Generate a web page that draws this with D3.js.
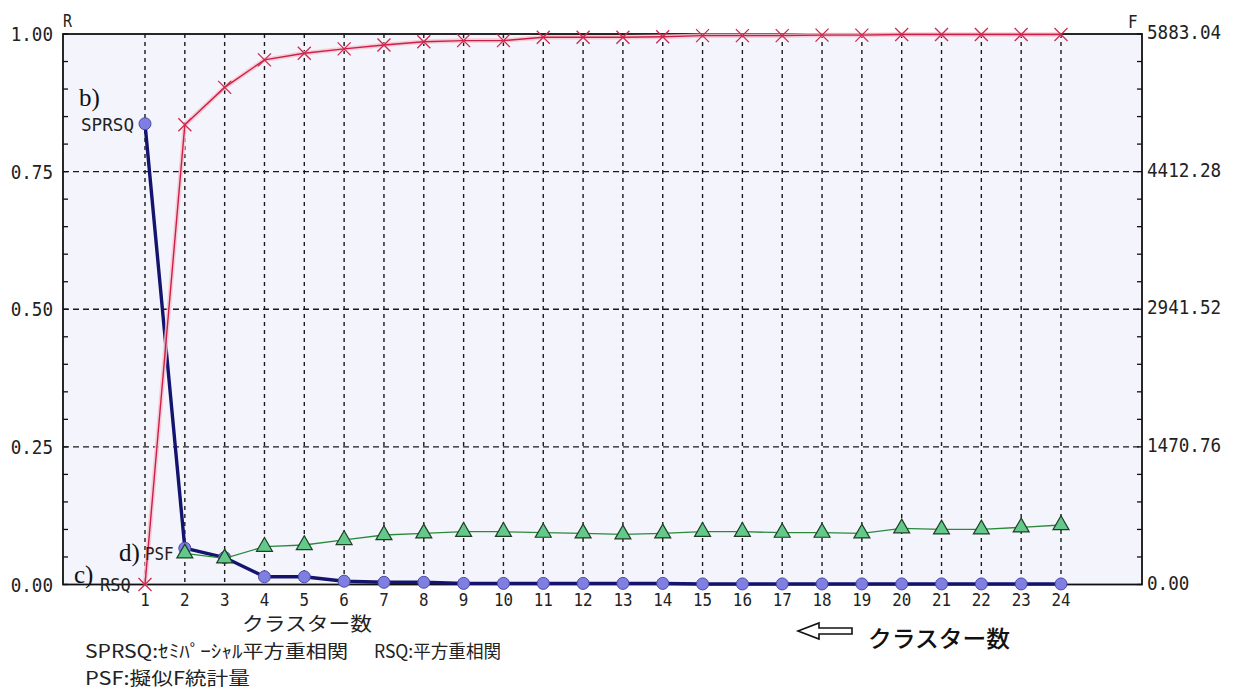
<!DOCTYPE html>
<html>
<head>
<meta charset="utf-8">
<script src="https://cdn.jsdelivr.net/npm/d3@7/dist/d3.min.js"></script>
<style>
  html, body { margin: 0; padding: 0; background: #ffffff; }
  svg { display: block; }
</style>
</head>
<body>
<svg id="chart" width="1239" height="691"></svg>
<script>
// Cluster counts along the horizontal axis
const clusters = [1, 2, 3, 4, 5, 6, 7, 8, 9, 10, 11, 12, 13, 14, 15, 16, 17, 18, 19, 20, 21, 22, 23, 24];
// Semi-partial R-squared (left axis R)
const sprsq = [0.837, 0.066, 0.049, 0.014, 0.014, 0.006, 0.004, 0.004, 0.002, 0.002, 0.002, 0.002,
               0.002, 0.002, 0.001, 0.001, 0.001, 0.001, 0.001, 0.001, 0.001, 0.001, 0.001, 0.001];
// R-squared (left axis R)
const rsq = [0.000, 0.835, 0.903, 0.953, 0.965, 0.973, 0.980, 0.986, 0.988, 0.988, 0.994, 0.994,
             0.994, 0.995, 0.997, 0.997, 0.997, 0.998, 0.998, 0.999, 0.999, 0.999, 0.999, 0.999];
// Pseudo F statistic (right axis F); undefined for a single cluster
const psf = [null, 333, 280, 404, 422, 476, 529, 547, 564, 564, 554, 547,
             536, 547, 564, 564, 554, 554, 547, 600, 590, 590, 611, 636];

const leftTicks = [0, 0.25, 0.5, 0.75, 1.0];
const leftTickLabels = ["0.00", "0.25", "0.50", "0.75", "1.00"];
const rightMax = 5883.04;
const rightTicks = [0, 1470.76, 2941.52, 4412.28, 5883.04];
const rightTickLabels = ["0.00", "1470.76", "2941.52", "4412.28", "5883.04"];
const minorStep = 0.05;

const svg = d3.select("#chart");
const frame = { left: 63, right: 1142, top: 34, bottom: 584.5 };

const x = d3.scaleLinear().domain([1, 24]).range([145, 1061]);
const yL = d3.scaleLinear().domain([0, 1]).range([frame.bottom, frame.top]);
const yR = d3.scaleLinear().domain([0, rightMax]).range([frame.bottom, frame.top]);

const monoFont = "'DejaVu Sans Mono', 'Liberation Mono', monospace";
const cjkFont = "'Noto Sans CJK JP', 'Noto Sans', sans-serif";
const serifFont = "'Liberation Serif', 'DejaVu Serif', serif";

// narrow, tall lettering for axis text
function label(g, px, py, txt, opt) {
  const o = Object.assign({ size: 20, sx: 0.88, anchor: "start", font: monoFont, fill: "#222" }, opt || {});
  return g.append("text")
    .attr("transform", `translate(${px},${py}) scale(${o.sx},1)`)
    .attr("font-family", o.font)
    .attr("font-size", o.size)
    .attr("text-anchor", o.anchor)
    .attr("fill", o.fill)
    .text(txt);
}

// plot background
svg.append("rect")
  .attr("x", frame.left).attr("y", frame.top)
  .attr("width", frame.right - frame.left).attr("height", frame.bottom - frame.top)
  .attr("fill", "#f4f4fc");

// grid
const grid = svg.append("g").attr("stroke", "#1a1a1a").attr("stroke-width", 1.4);
grid.selectAll(".vg").data(clusters).join("line")
  .attr("x1", d => x(d)).attr("x2", d => x(d))
  .attr("y1", frame.top).attr("y2", frame.bottom)
  .attr("stroke-dasharray", "4,4");
grid.selectAll(".hg").data(leftTicks.filter(t => t > 0 && t < 1)).join("line")
  .attr("x1", frame.left).attr("x2", frame.right)
  .attr("y1", d => yL(d)).attr("y2", d => yL(d))
  .attr("stroke-dasharray", "6,4");

// minor ticks on both vertical axes
const minor = d3.range(0, 1.0001, minorStep);
const tk = svg.append("g").attr("stroke", "#111").attr("stroke-width", 1.3);
tk.selectAll(".ml").data(minor).join("line")
  .attr("x1", frame.left).attr("x2", frame.left + 5)
  .attr("y1", d => yL(d)).attr("y2", d => yL(d));
tk.selectAll(".mr").data(minor).join("line")
  .attr("x1", frame.right - 5).attr("x2", frame.right)
  .attr("y1", d => yL(d)).attr("y2", d => yL(d));

// frame
svg.append("rect")
  .attr("x", frame.left).attr("y", frame.top)
  .attr("width", frame.right - frame.left).attr("height", frame.bottom - frame.top)
  .attr("fill", "none").attr("stroke", "#111").attr("stroke-width", 1.8);

// axis labels
const axText = svg.append("g");
leftTicks.forEach((t, i) => label(axText, 53, yL(t) + 7, leftTickLabels[i], { anchor: "end" }));
rightTicks.forEach((t, i) => label(axText, 1147, yR(t) + 5, rightTickLabels[i]));
clusters.forEach(c => label(axText, x(c), 606, String(c), { size: 18, anchor: "middle" }));
label(axText, 63, 27, "R", { size: 17 });
label(axText, 1128, 28, "F", { size: 18 });

// SPRSQ series
const lineL = (arr) => d3.line().defined((d, i) => arr[i] != null)
  .x((d, i) => x(clusters[i])).y((d, i) => yL(arr[i]));
svg.append("path").datum(sprsq)
  .attr("d", lineL(sprsq)(sprsq))
  .attr("fill", "none").attr("stroke", "#14146e").attr("stroke-width", 3.4);
svg.selectAll(".sp").data(sprsq).join("circle")
  .attr("cx", (d, i) => x(clusters[i])).attr("cy", d => yL(d)).attr("r", 6)
  .attr("fill", "#7f7fe2").attr("stroke", "#4a4aa8").attr("stroke-width", 1);

// PSF series
const psfLine = d3.line().defined(d => d != null)
  .x((d, i) => x(clusters[i])).y(d => yR(d));
svg.append("path").datum(psf)
  .attr("d", psfLine)
  .attr("fill", "none").attr("stroke", "#2a8a3a").attr("stroke-width", 1.3);
const tri = d3.symbol().type(d3.symbolTriangle).size(110);
svg.selectAll(".pf").data(psf.map((v, i) => ({ v, c: clusters[i] })).filter(d => d.v != null)).join("path")
  .attr("d", tri)
  .attr("transform", d => `translate(${x(d.c)},${yR(d.v)})`)
  .attr("fill", "#62c98a").attr("stroke", "#1f3f25").attr("stroke-width", 1.2);

// RSQ series
const rsqPath = lineL(rsq)(rsq);
svg.append("path").attr("d", rsqPath)
  .attr("fill", "none").attr("stroke", "#f6c4d2").attr("stroke-width", 4.5).attr("opacity", 0.85);
svg.append("path").attr("d", rsqPath)
  .attr("fill", "none").attr("stroke", "#cc1f45").attr("stroke-width", 1.4);
const crossG = svg.append("g").attr("stroke", "#d0284e").attr("stroke-width", 1.3);
rsq.forEach((v, i) => {
  const cx = x(clusters[i]), cy = yL(v), h = 6.5;
  crossG.append("line").attr("x1", cx - h).attr("y1", cy - h).attr("x2", cx + h).attr("y2", cy + h);
  crossG.append("line").attr("x1", cx - h).attr("y1", cy + h).attr("x2", cx + h).attr("y2", cy - h);
});

// series annotations
const ann = svg.append("g");
ann.append("text").attr("x", 79).attr("y", 106).attr("font-family", serifFont).attr("font-size", 25).attr("fill", "#111").text("b)");
label(ann, 134, 131, "SPRSQ", { size: 18, sx: 0.98, anchor: "end" });
ann.append("text").attr("x", 119).attr("y", 561).attr("font-family", serifFont).attr("font-size", 25).attr("fill", "#111").text("d)");
label(ann, 145, 560, "PSF", { size: 18, sx: 0.88 });
ann.append("text").attr("x", 74).attr("y", 583).attr("font-family", serifFont).attr("font-size", 25).attr("fill", "#111").text("c)");
label(ann, 100, 591, "RSQ", { size: 18, sx: 0.95 });

// x axis title and legend notes
svg.append("text").attr("x", 307).attr("y", 631).attr("text-anchor", "middle")
  .attr("font-family", cjkFont).attr("font-size", 19).attr("fill", "#222")
  .attr("textLength", 130).attr("lengthAdjust", "spacingAndGlyphs")
  .text("クラスター数");
svg.append("text").attr("x", 85).attr("y", 658)
  .attr("font-family", cjkFont).attr("font-size", 18).attr("fill", "#222")
  .attr("textLength", 263).attr("lengthAdjust", "spacingAndGlyphs")
  .text("SPRSQ:ｾﾐﾊﾟｰｼｬﾙ平方重相関");
svg.append("text").attr("x", 374).attr("y", 658)
  .attr("font-family", cjkFont).attr("font-size", 18).attr("fill", "#222")
  .attr("textLength", 127).attr("lengthAdjust", "spacingAndGlyphs")
  .text("RSQ:平方重相関");
svg.append("text").attr("x", 85).attr("y", 685)
  .attr("font-family", cjkFont).attr("font-size", 18).attr("fill", "#222")
  .attr("textLength", 165).attr("lengthAdjust", "spacingAndGlyphs")
  .text("PSF:擬似F統計量");

// direction note with hollow arrow
svg.append("path")
  .attr("d", "M798,631 L819,623 L819,628 L852,628 L852,634 L819,634 L819,639 Z")
  .attr("fill", "#ffffff").attr("stroke", "#111").attr("stroke-width", 1.6).attr("stroke-linejoin", "miter");
svg.append("text").attr("x", 868).attr("y", 647)
  .attr("font-family", cjkFont).attr("font-size", 23).attr("font-weight", 500).attr("fill", "#111")
  .attr("textLength", 142).attr("lengthAdjust", "spacingAndGlyphs")
  .text("クラスター数");
</script>
</body>
</html>
